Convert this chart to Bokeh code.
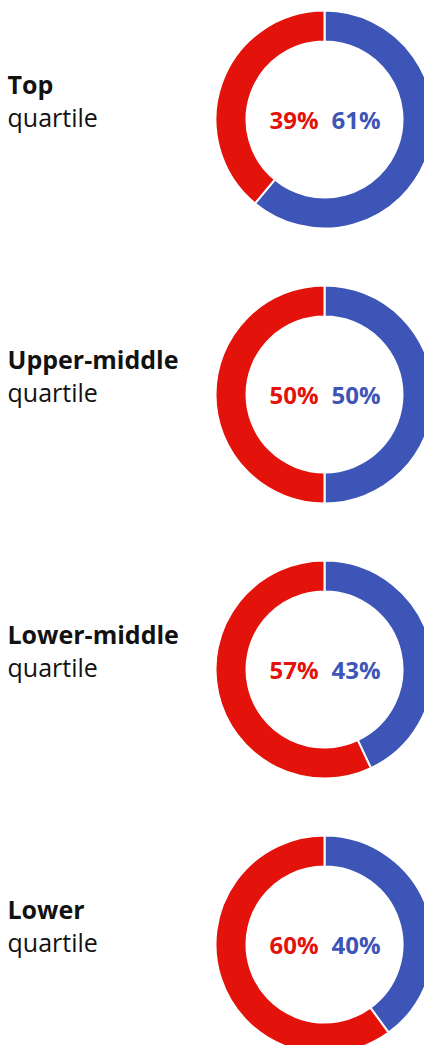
import math
from bokeh.plotting import figure
from bokeh.models import Range1d
from bokeh.core.properties import value
from bokeh.embed import file_html
from bokeh.resources import INLINE

quartiles = ["Top", "Upper-middle", "Lower-middle", "Lower"]
red_share = [39, 50, 57, 60]
blue_share = [61, 50, 43, 40]

RED = "#E3120B"
BLUE = "#3E55B8"
FONT = "Open Sans"

W, H = 424, 1045
REF_H = 1053
p = figure(width=W, height=H, output_backend="svg", toolbar_location=None,
           x_range=Range1d(0, W), y_range=Range1d(REF_H - H, REF_H),
           min_border=0, outline_line_color=None)
p.axis.visible = False
p.grid.visible = False
p.background_fill_color = "white"


def Y(ref_y):
    return REF_H - ref_y


cx = 324
for i, (q, r, b) in enumerate(zip(quartiles, red_share, blue_share)):
    cyr = 119 + 275 * i
    cy = Y(cyr)
    start = math.pi / 2
    mid = start - 2 * math.pi * b / 100
    p.annular_wedge(x=[cx], y=[cy], inner_radius=78, outer_radius=109,
                    start_angle=[mid], end_angle=[start], direction="anticlock",
                    fill_color=BLUE, line_color="white", line_width=2)
    p.annular_wedge(x=[cx], y=[cy], inner_radius=78, outer_radius=109,
                    start_angle=[mid - 2 * math.pi * r / 100], end_angle=[mid],
                    direction="anticlock",
                    fill_color=RED, line_color="white", line_width=2)
    p.text(x=[318], y=[Y(cyr)], text=[f"{r}%"], text_color=RED,
           text_font=value(FONT), text_font_style="bold", text_font_size="24px",
           text_align="right", text_baseline="alphabetic")
    p.text(x=[331], y=[Y(cyr)], text=[f"{b}%"], text_color=BLUE,
           text_font=value(FONT), text_font_style="bold", text_font_size="24px",
           text_align="left", text_baseline="alphabetic")
    p.text(x=[7], y=[Y(cyr - 36)], text=[q], text_color="#121212",
           text_font=value(FONT), text_font_style="bold", text_font_size="25px",
           text_align="left", text_baseline="alphabetic")
    p.text(x=[7], y=[Y(cyr - 3)], text=["quartile"], text_color="#121212",
           text_font=value(FONT), text_font_size="25px",
           text_align="left", text_baseline="alphabetic")

open("out.html", "w").write(file_html(p, INLINE))
